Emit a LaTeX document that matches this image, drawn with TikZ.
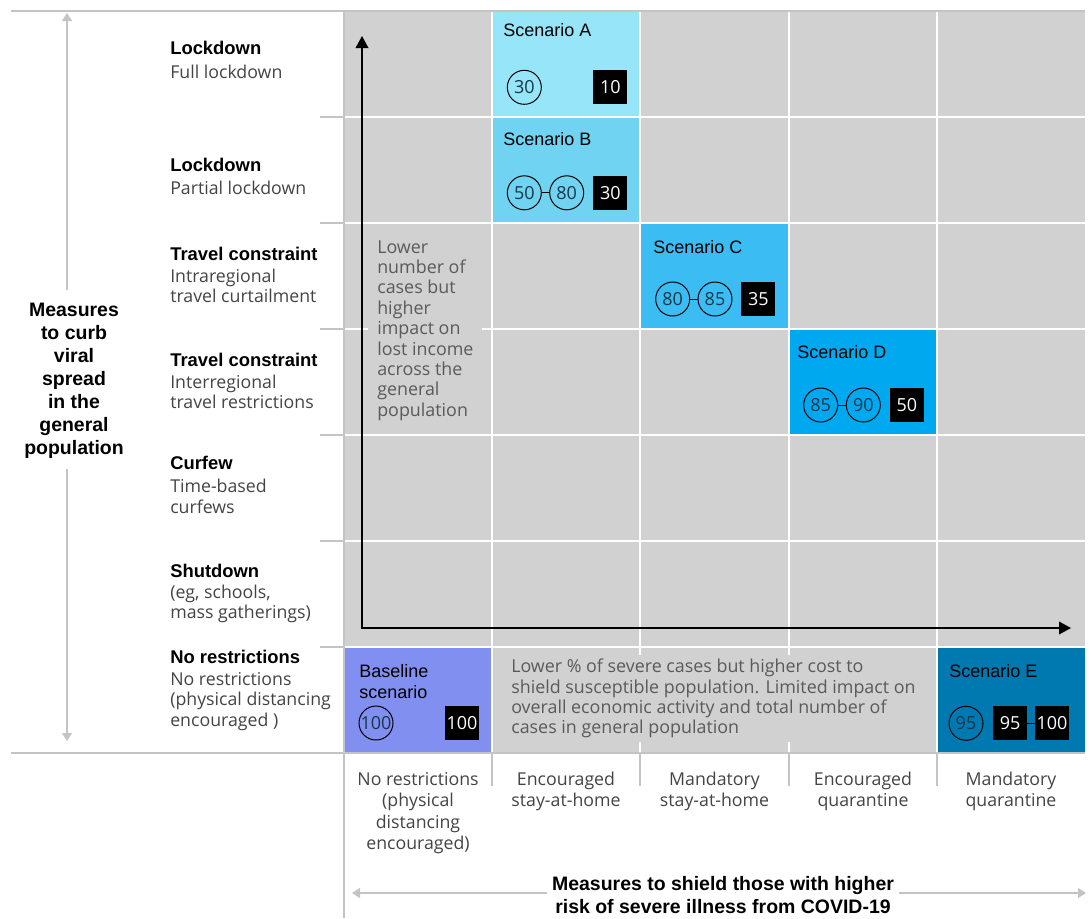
\documentclass[tikz,border=0pt]{standalone}
\usepackage{fontspec}
\setmainfont{Open Sans}
\newfontfamily\hv{Liberation Sans}
\usetikzlibrary{arrows.meta}
\definecolor{cellgray}{HTML}{D1D1D1}
\definecolor{rulegray}{HTML}{C4C4C4}
\definecolor{txtgray}{HTML}{444444}
\definecolor{notegray}{HTML}{5A5A5A}
\definecolor{numblue}{HTML}{16374A}
\definecolor{scA}{HTML}{96E5F8}
\definecolor{scB}{HTML}{6FD3F1}
\definecolor{scC}{HTML}{3BBDF3}
\definecolor{scD}{HTML}{00A8EF}
\definecolor{scBase}{HTML}{8190F0}
\definecolor{scE}{HTML}{0079B1}
\tikzset{
  rowtitle/.style={anchor=base west, inner sep=0pt, text=black, font=\hv\bfseries\fontsize{13.8}{15.6}\selectfont},
  rowsub/.style={anchor=north west, inner sep=0pt, align=left, text=txtgray, font=\fontsize{13.3}{15.4}\selectfont},
  scen/.style={anchor=base west, inner sep=0pt, text=black, font=\hv\fontsize{13.5}{15.75}\selectfont},
  ring/.style={circle, draw=black, line width=0.75pt, minimum size=25.5pt, inner sep=0pt, text=numblue, font=\fontsize{13.5}{15}\selectfont},
  blk/.style={rectangle, fill=black, text=white, minimum size=25.5pt, inner sep=0pt, font=\fontsize{13.5}{15}\selectfont},
  link/.style={draw=black, line width=0.75pt},
  gridline/.style={draw=white, line width=1.1pt},
  rule/.style={draw=rulegray, line width=0.9pt},
  collabel/.style={anchor=north, inner sep=0pt, align=center, text=txtgray, font=\fontsize{13.3}{16.1}\selectfont},
  note/.style={anchor=north west, fill=cellgray, align=left, text=notegray},
  axis/.style={draw=black, line width=1.1pt, {Triangle[length=9pt,width=9.5pt]}-{Triangle[length=9pt,width=9.5pt]}},
  grayarrow/.style={draw=rulegray, line width=0.8pt, {Triangle[length=6pt,width=7.5pt]}-{Triangle[length=6pt,width=7.5pt]}},
  axtitle/.style={fill=white, align=center, text=black, font=\hv\bfseries\fontsize{14.6}{17.3}\selectfont}
}
\begin{document}
\begin{tikzpicture}[x=0.75pt,y=-0.75pt]
\useasboundingbox (0,0) rectangle (1091,918);
% background grid
\fill[cellgray] (344,11) rectangle (1085,753);
\fill[scA] (492,11) rectangle (640,117);
\fill[scB] (492,117) rectangle (640,223);
\fill[scC] (640,223) rectangle (789,329);
\fill[scD] (789,329) rectangle (937,435);
\fill[scBase] (344,647) rectangle (492,753);
\fill[scE] (937,647) rectangle (1085,753);
\foreach \yy in {117,223,329,435,541,647} {
  \draw[gridline] (344,\yy) -- (1085,\yy);
  \draw[rule] (320,\yy) -- (344,\yy);
}
\foreach \xx in {492,640,789,937} {
  \draw[gridline] (\xx,11) -- (\xx,753);
  \draw[rule] (\xx,753) -- (\xx,786);
}
\draw[rule] (11,11) -- (1085,11);
\draw[rule] (11,753) -- (1085,753);
\draw[rule] (344,11) -- (344,918);

% notes inside the grid
\node[note, inner xsep=6.75pt, inner ysep=3.75pt, font=\fontsize{13.4}{15.3}\selectfont] (noteL) at (368,233.5)
  {\strut Lower\\number of\\cases but\\higher\\impact on\\lost income\\across the\\general\\population};
\node[note, inner xsep=4.5pt, inner ysep=3pt, font=\fontsize{13.4}{15.2}\selectfont] (noteB) at (505,654.5)
  {\strut Lower \% of severe cases but higher cost to\\shield susceptible population. Limited impact on\\overall economic activity and total number of\\cases in general population};

% axes
\coordinate (ytip) at (362,36);
\coordinate (origin) at (362,628);
\coordinate (xtip) at (1071,628);
\draw[axis] (ytip) -- (origin) -- (xtip);

% left gray arrow and title
\coordinate (vtop) at (67,13);
\coordinate (vbot) at (67,741);
\draw[grayarrow] (vtop) -- (vbot);
\node[axtitle, anchor=north, inner xsep=2pt, inner ysep=7.5pt] (ytitle) at (74,290)
  {\strut Measures\\to curb\\viral\\spread\\in the\\general\\population};

% bottom gray arrow and title
\coordinate (hleft) at (352,893);
\coordinate (hright) at (1086,893);
\draw[grayarrow] (hleft) -- (hright);
\node[axtitle, anchor=north, inner xsep=4pt, inner ysep=0pt] (xtitle) at (723,874)
  {\strut Measures to shield those with higher\\risk of severe illness from COVID-19};

% row labels
\node[rowtitle] (r1t) at (170,54) {Lockdown};
\node[rowsub] (r1s) at (170,63.6) {\strut Full lockdown};
\node[rowtitle] (r2t) at (170,171) {Lockdown};
\node[rowsub] (r2s) at (170,179.6) {\strut Partial lockdown};
\node[rowtitle] (r3t) at (170,260) {Travel constraint};
\node[rowsub] (r3s) at (170,267.6) {\strut Intraregional\\travel curtailment};
\node[rowtitle] (r4t) at (170,366) {Travel constraint};
\node[rowsub] (r4s) at (170,373.6) {\strut Interregional\\travel restrictions};
\node[rowtitle] (r5t) at (170,469) {Curfew};
\node[rowsub] (r5s) at (170,478.3) {\strut Time-based\\curfews};
\node[rowtitle] (r6t) at (170,577) {Shutdown};
\node[rowsub] (r6s) at (170,583.6) {\strut (eg, schools,\\mass gatherings)};
\node[rowtitle] (r7t) at (170,663) {No restrictions};
\node[rowsub] (r7s) at (170,670.6) {\strut No restrictions\\(physical distancing\\encouraged )};

% column labels
\node[collabel] (c1) at (418,770) {\strut No restrictions\\(physical\\distancing\\encouraged)};
\node[collabel] (c2) at (566,770) {\strut Encouraged\\stay-at-home};
\node[collabel] (c3) at (714.5,770) {\strut Mandatory\\stay-at-home};
\node[collabel] (c4) at (863,770) {\strut Encouraged\\quarantine};
\node[collabel] (c5) at (1011,770) {\strut Mandatory\\quarantine};

% scenario A
\node[scen] (sa) at (503,36) {Scenario A};
\node[ring] (a1) at (524.3,87.3) {30};
\node[blk] (a2) at (610.3,87) {10};
% scenario B
\node[scen] (sb) at (503,145) {Scenario B};
\node[ring] (b1) at (524.3,192.8) {50};
\node[ring] (b2) at (566.7,192.8) {80};
\node[blk] (b3) at (610.3,193) {30};
\draw[link] (b1) -- (b2);
% scenario C
\node[scen] (sc) at (653,253) {Scenario C};
\node[ring] (c1r) at (672.7,299) {80};
\node[ring] (c2r) at (715,299) {85};
\node[blk] (c3r) at (758.3,299) {35};
\draw[link] (c1r) -- (c2r);
% scenario D
\node[scen] (sd) at (797,358) {Scenario D};
\node[ring] (d1) at (820.7,405) {85};
\node[ring] (d2) at (863.3,405) {90};
\node[blk] (d3) at (906.8,405) {50};
\draw[link] (d1) -- (d2);
% baseline
\node[scen, anchor=north west, align=left] (sbase) at (359,662.3) {\strut Baseline\\scenario};
\node[ring] (base1) at (376,723) {100};
\node[blk] (base2) at (462,723) {100};
% scenario E
\node[scen] (se) at (949,677) {Scenario E};
\node[ring] (e1) at (966,723.3) {95};
\node[blk] (e2) at (1010.2,723) {95};
\node[blk] (e3) at (1052,723) {100};
\draw[link] (e2) -- (e3);
\end{tikzpicture}
\end{document}
